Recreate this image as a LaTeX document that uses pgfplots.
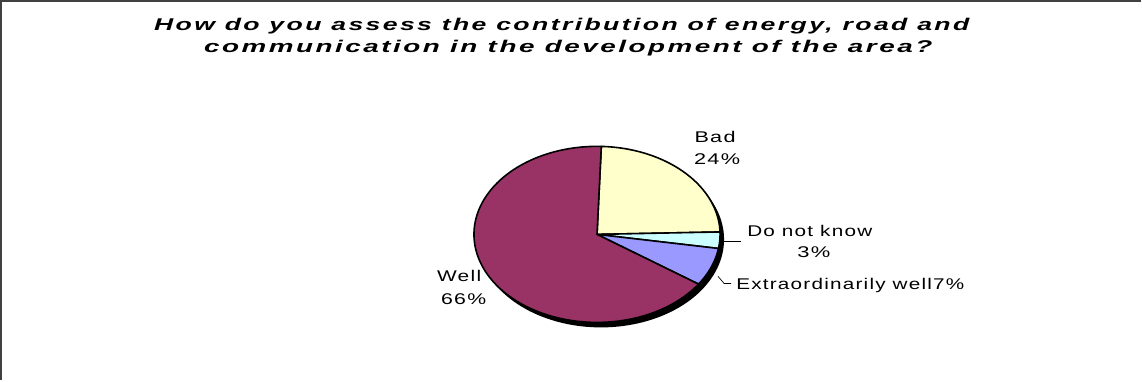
\documentclass[border=0pt]{standalone}
\usepackage{pgfplots}
\pgfplotsset{compat=1.18}
\usepackage{graphicx}
\usepackage{fontspec}
\setmainfont{Liberation Sans}
\newfontfamily\ttlfont[LetterSpace=9]{Liberation Sans}
\newfontfamily\labfont[LetterSpace=6]{Liberation Sans}
\definecolor{cWell}{HTML}{993366}
\definecolor{cBad}{HTML}{FFFFCC}
\definecolor{cDnk}{HTML}{CCFFFF}
\definecolor{cExt}{HTML}{9999FF}
\definecolor{frame}{HTML}{404040}
% data (percent)
\def\vBad{24}
\def\vDnk{3}
\def\vExt{7}
\def\vWell{66}
\newlength\tmpw
\newcommand\fitw[2]{\settowidth\tmpw{#2}\pgfmathsetmacro\fitfac{#1/\tmpw}\scalebox{\fitfac}[1]{#2}}
\newcommand{\lab}[2]{\fitw{#1}{\fontsize{15.5}{18}\labfont #2}}
\newcommand{\ttl}[2]{\fitw{#1}{\fontsize{17}{20}\ttlfont\bfseries\itshape #2}}
\begin{document}
\begin{tikzpicture}
\def\cx{598}\def\cy{235}\def\rx{123}\def\ry{88}
\pgfmathsetmacro\aA{88}
\pgfmathsetmacro\aB{\aA-\vBad*3.6}
\pgfmathsetmacro\aC{\aB-\vDnk*3.6}
\pgfmathsetmacro\aD{\aC-\vExt*3.6}
\pgfmathsetmacro\aE{\aD-\vWell*3.6}
\begin{axis}[width=1142pt,height=381pt,scale only axis,
  xmin=0,xmax=1142,ymin=0,ymax=381,y dir=reverse,
  axis lines=none,clip=false]
% frame
\draw[frame,line width=1.6pt] (axis cs:2,381) -- (axis cs:2,1.5) -- (axis cs:1142,1.5);
% shadow
\addplot[fill=black,draw=none,domain=0:360,samples=150]
  ({\cx+4+\rx*cos(x)},{\cy+5-\ry*sin(x)}) -- cycle;
% slices
\addplot[fill=cBad,draw=black,line width=1.6pt,line join=round,domain=\aB:\aA,samples=80]
  ({\cx+\rx*cos(x)},{\cy-\ry*sin(x)}) -- (axis cs:\cx,\cy) -- cycle;
\addplot[fill=cDnk,draw=black,line width=1.6pt,line join=round,domain=\aC:\aB,samples=20]
  ({\cx+\rx*cos(x)},{\cy-\ry*sin(x)}) -- (axis cs:\cx,\cy) -- cycle;
\addplot[fill=cExt,draw=black,line width=1.6pt,line join=round,domain=\aD:\aC,samples=30]
  ({\cx+\rx*cos(x)},{\cy-\ry*sin(x)}) -- (axis cs:\cx,\cy) -- cycle;
\addplot[fill=cWell,draw=black,line width=1.6pt,line join=round,domain=\aE:\aD,samples=200]
  ({\cx+\rx*cos(x)},{\cy-\ry*sin(x)}) -- (axis cs:\cx,\cy) -- cycle;
% leader lines
\draw[black,line width=0.7pt] (axis cs:723,242) -- (axis cs:742,242);
\draw[black,line width=0.7pt] (axis cs:719,277) -- (axis cs:725,284) -- (axis cs:732,284);
% title
\node[anchor=base west,inner sep=0] at (axis cs:155,31) {\ttl{815}{How do you assess the contribution of energy, road and}};
\node[anchor=base west,inner sep=0] at (axis cs:205,53) {\ttl{728}{communication in the development of the area?}};
% labels
\node[anchor=base,inner sep=0] at (axis cs:716,143) {\lab{41}{Bad}};
\node[anchor=base,inner sep=0] at (axis cs:718,165) {\lab{46}{24\%}};
\node[anchor=base west,inner sep=0] at (axis cs:748,237) {\lab{125}{Do not know}};
\node[anchor=base west,inner sep=0] at (axis cs:798,258) {\lab{33}{3\%}};
\node[anchor=base west,inner sep=0] at (axis cs:737,290) {\lab{228}{Extraordinarily well7\%}};
\node[anchor=base west,inner sep=0] at (axis cs:438,282) {\lab{44}{Well}};
\node[anchor=base west,inner sep=0] at (axis cs:442,305) {\lab{45}{66\%}};
\end{axis}
\end{tikzpicture}
\end{document}
